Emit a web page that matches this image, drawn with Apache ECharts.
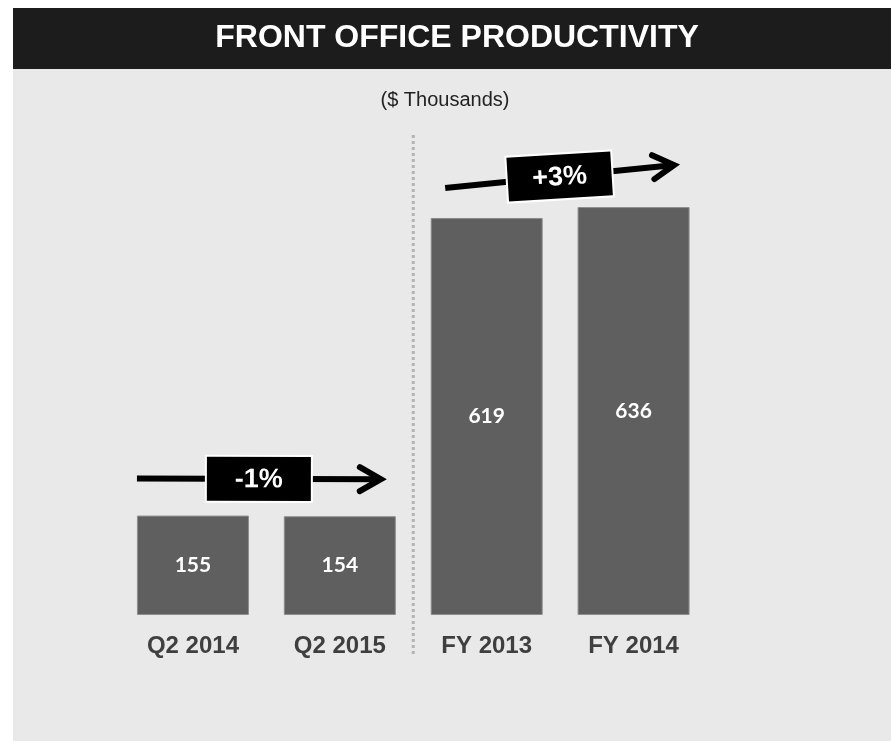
<!DOCTYPE html>
<html>
<head>
<meta charset="utf-8">
<title>Front Office Productivity</title>
<script src="https://cdn.jsdelivr.net/npm/echarts@6/dist/echarts.min.js"></script>
<style>
  html, body { margin: 0; padding: 0; background: #fff; }
  #chart { width: 891px; height: 741px; }
</style>
</head>
<body>
<div id="chart"></div>
<script>
// values in $ thousands
const categories = ['Q2 2014', 'Q2 2015', 'FY 2013', 'FY 2014'];
const values = [155, 154, 619, 636];
// change arrows: [from index, to index, label]
const changes = [
  [0, 1, '-1%'],
  [2, 3, '+3%']
];

const mychart = echarts.init(document.getElementById('chart'));

mychart.setOption({
  backgroundColor: '#fff',
  animation: false,
  grid: { left: 119.5, right: 184, top: 166, bottom: 126 },
  xAxis: {
    type: 'category',
    data: categories,
    axisLine: { show: false },
    axisTick: { show: false },
    axisLabel: {
      margin: 19,
      color: '#3f3f3f',
      fontFamily: 'Liberation Sans, Arial, sans-serif',
      fontWeight: 'bold',
      fontSize: 24
    }
  },
  yAxis: {
    type: 'value',
    min: 0,
    max: 700,
    show: false,
    splitLine: { show: false }
  },
  series: [{
    type: 'bar',
    data: values,
    barWidth: 112,
    z: 5,
    itemStyle: { color: '#5f5f5f', borderColor: '#8e8e8e', borderWidth: 1 },
    label: {
      show: true,
      position: 'inside',
      color: '#fff',
      fontFamily: 'Lato, sans-serif',
      fontWeight: 'bold',
      fontSize: 21
    }
  }]
});

// pixel helpers from the chart's own scales
function px(i, v) {
  return mychart.convertToPixel({ seriesIndex: 0 }, [i, v]);
}

const graphics = [
  { type: 'rect', z: -10, silent: true, shape: { x: 13, y: 69, width: 878, height: 672 }, style: { fill: '#e9e9e9' } },
  { type: 'rect', z: -9, silent: true, shape: { x: 13, y: 8, width: 878, height: 61 }, style: { fill: '#1c1c1c' } },
  { type: 'text', z: 10, x: 457, y: 38,
    style: { text: 'FRONT OFFICE PRODUCTIVITY', fill: '#fff', font: 'bold 32px "Liberation Sans", Arial, sans-serif',
             textAlign: 'center', textVerticalAlign: 'middle' } },
  { type: 'text', z: 10, x: 445, y: 100,
    style: { text: '($ Thousands)', fill: '#222', font: '20px "Liberation Sans", Arial, sans-serif',
             textAlign: 'center', textVerticalAlign: 'middle' } }
];

// dotted divider between quarter and full-year groups
const mid = (px(1, 0)[0] + px(2, 0)[0]) / 2;
graphics.push({
  type: 'line', z: 1, silent: true,
  shape: { x1: mid, y1: 135, x2: mid, y2: 657 },
  style: { stroke: '#b4b4b4', lineWidth: 3, lineDash: [3, 3] }
});

// change arrows with boxed percentage
const offsets = [
  { sx: -56, sy: -37, ex: 41, ey: -37 },
  { sx: -41.5, sy: -30, ex: 40.5, ey: -42 }
];
changes.forEach(function (c, k) {
  const a = px(c[0], values[c[0]]);
  const b = px(c[1], values[c[1]]);
  const o = offsets[k];
  const x1 = a[0] + o.sx, y1 = a[1] + o.sy;
  const x2 = b[0] + o.ex, y2 = b[1] + o.ey;
  const ang = Math.atan2(y2 - y1, x2 - x1);
  const ux = Math.cos(ang), uy = Math.sin(ang);
  const back = 21, side = 12;
  graphics.push({
    type: 'line', z: 20, silent: true,
    shape: { x1: x1, y1: y1, x2: x2 - ux * 2, y2: y2 - uy * 2 },
    style: { stroke: '#000', lineWidth: 6 }
  });
  graphics.push({
    type: 'polyline', z: 20, silent: true,
    shape: { points: [
      [x2 - ux * back - uy * side, y2 - uy * back + ux * side],
      [x2, y2],
      [x2 - ux * back + uy * side, y2 - uy * back - ux * side]
    ] },
    style: { stroke: '#000', lineWidth: 6, lineCap: 'round', lineJoin: 'miter', fill: null }
  });
  const t = 0.5;
  const cx = x1 + (x2 - x1) * t, cy = y1 + (y2 - y1) * t;
  graphics.push({
    type: 'group', z: 30, x: cx, y: cy, rotation: -ang * 0.6,
    children: [
      { type: 'rect', z: 30, shape: { x: -53, y: -23, width: 106, height: 46 },
        style: { fill: '#000', stroke: '#fff', lineWidth: 2 } },
      { type: 'text', z: 31, x: 0, y: 1,
        style: { text: c[2], fill: '#fff', font: 'bold 27px "Liberation Sans", Arial, sans-serif',
                 textAlign: 'center', textVerticalAlign: 'middle' } }
    ]
  });
});

mychart.setOption({ graphic: graphics });
</script>
</body>
</html>
